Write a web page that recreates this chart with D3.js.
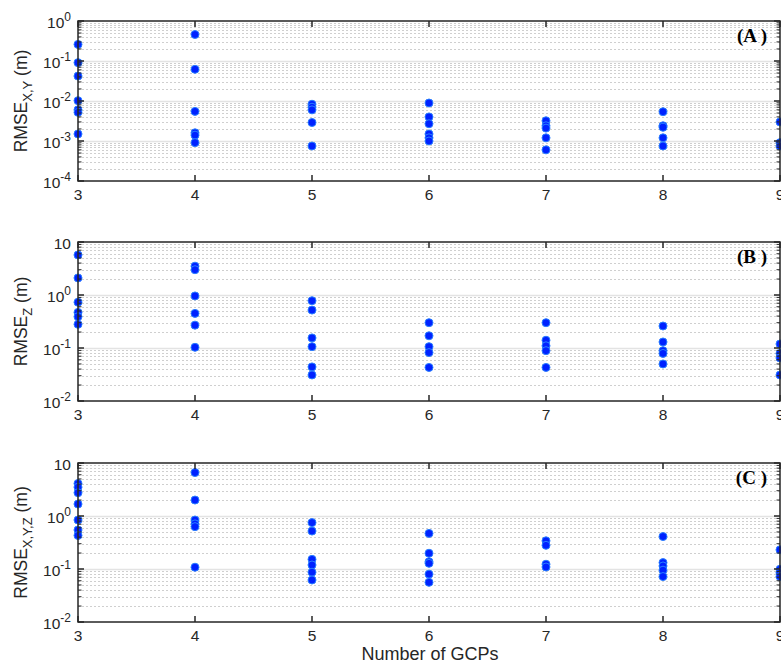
<!DOCTYPE html>
<html><head><meta charset="utf-8">
<script src="https://cdn.jsdelivr.net/npm/d3@7"></script>
<style>
body{margin:0;background:#fff;}
svg{display:block;font-family:"Liberation Sans",Arial,sans-serif;}
</style></head>
<body><svg id="chart" width="781" height="662"></svg>
<script>
const gcps = [3,4,5,6,7,8,9];
const xTicks = [3,4,5,6,7,8,9];
// Panel A: RMSE X,Y
const rmseXY = [
  [0.26,0.091,0.042,0.0102,0.006,0.0052,0.0015],
  [0.46,0.062,0.0055,0.0016,0.0014,0.00091],
  [0.0083,0.007,0.006,0.0029,0.00075],
  [0.0089,0.004,0.0027,0.0015,0.0012,0.001],
  [0.0032,0.0024,0.0021,0.0012,0.0006],
  [0.0054,0.0024,0.0022,0.0012,0.00075],
  [0.003,0.00091,0.00075]
];
// Panel B: RMSE Z
const rmseZ = [
  [5.7,2.1,0.73,0.47,0.39,0.28],
  [3.5,3.0,0.96,0.45,0.27,0.103],
  [0.78,0.52,0.155,0.106,0.044,0.031],
  [0.30,0.17,0.106,0.082,0.043],
  [0.30,0.14,0.11,0.089,0.043],
  [0.26,0.13,0.089,0.079,0.05],
  [0.119,0.079,0.065,0.031]
];
// Panel C: RMSE X,Y,Z
const rmseXYZ = [
  [4.1,3.5,2.75,1.68,0.84,0.545,0.43],
  [6.6,2.0,0.84,0.71,0.63,0.108],
  [0.75,0.52,0.152,0.119,0.087,0.062],
  [0.47,0.198,0.137,0.128,0.08,0.056],
  [0.34,0.28,0.123,0.109],
  [0.41,0.132,0.114,0.095,0.072],
  [0.23,0.099,0.085,0.072]
];
const panelLabels = ["(A )","(B )","(C )"];
const yLabelSubs = ["X,Y","Z","X,Y,Z"];
const yDomains = [[1e-4,1],[1e-2,10],[1e-2,10]];
const yTickExps = [[-4,-3,-2,-1,0],[-2,-1,0,1],[-2,-1,0,1]];
const xTitle = "Number of GCPs";

const svg = d3.select("#chart");
const axisColor = "#262626";
const left = 78, right = 780;
const panels = [
  {top:21, bottom:181, data:rmseXY},
  {top:242, bottom:401, data:rmseZ},
  {top:463, bottom:622, data:rmseXYZ}
];
const x = d3.scaleLinear().domain([3,9]).range([left,right]);

panels.forEach((p,i)=>{
  const y = d3.scaleLog().domain(yDomains[i]).range([p.bottom,p.top]);
  const g = svg.append("g");
  const lo = Math.log10(yDomains[i][0]), hi = Math.log10(yDomains[i][1]);
  const minors = [];
  for(let e=lo;e<hi;e++) for(let k=2;k<=9;k++) minors.push(k*Math.pow(10,e));
  const majors = d3.range(lo,hi+1).map(e=>Math.pow(10,e));
  // minor grid
  g.selectAll(".mg").data(minors).enter().append("line")
    .attr("x1",left).attr("x2",right)
    .attr("y1",d=>Math.round(y(d))+0.5).attr("y2",d=>Math.round(y(d))+0.5)
    .attr("stroke","#cfcfcf").attr("stroke-width",1).attr("stroke-dasharray","2,2");
  // major grid
  g.selectAll(".Mg").data(majors.slice(1,-1)).enter().append("line")
    .attr("x1",left).attr("x2",right)
    .attr("y1",d=>Math.round(y(d))+0.5).attr("y2",d=>Math.round(y(d))+0.5)
    .attr("stroke","#e3e3e3").attr("stroke-width",1.5);
  // points
  p.data.forEach((vals,j)=>{
    g.selectAll(null).data(vals).enter().append("circle")
      .attr("cx",x(gcps[j])).attr("cy",d=>y(d)).attr("r",4)
      .attr("fill","#0022ff").attr("stroke","#2a7fff").attr("stroke-width",1);
  });
  // box
  g.append("rect").attr("x",left).attr("y",p.top).attr("width",right-left).attr("height",p.bottom-p.top)
    .attr("fill","none").attr("stroke",axisColor).attr("stroke-width",1.5);
  // x ticks inward
  xTicks.forEach(t=>{
    g.append("line").attr("x1",x(t)).attr("x2",x(t)).attr("y1",p.bottom).attr("y2",p.bottom-6).attr("stroke",axisColor).attr("stroke-width",1.5);
    g.append("line").attr("x1",x(t)).attr("x2",x(t)).attr("y1",p.top).attr("y2",p.top+6).attr("stroke",axisColor).attr("stroke-width",1.5);
    g.append("text").attr("x",x(t)).attr("y",p.bottom+19).attr("text-anchor","middle")
      .attr("font-size",15.5).attr("fill",axisColor).text(t);
  });
  // y ticks
  majors.forEach(v=>{
    [[left,left+6],[right,right-6]].forEach(([a,b])=>{
      g.append("line").attr("x1",a).attr("x2",b).attr("y1",y(v)).attr("y2",y(v)).attr("stroke",axisColor).attr("stroke-width",1.5);
    });
  });
  minors.forEach(v=>{
    [[left,left+3.5],[right,right-3.5]].forEach(([a,b])=>{
      g.append("line").attr("x1",a).attr("x2",b).attr("y1",y(v)).attr("y2",y(v)).attr("stroke",axisColor).attr("stroke-width",1);
    });
  });
  yTickExps[i].forEach(e=>{
    const t = g.append("text").attr("x",left-7).attr("y",y(Math.pow(10,e))+7).attr("text-anchor","end")
      .attr("font-size",15.5).attr("fill",axisColor);
    if(e===1){ t.text("10"); }
    else {
      t.append("tspan").text("10");
      t.append("tspan").attr("dy",-7).attr("font-size",12).text(e);
    }
  });
  // y label
  const yl = g.append("text").attr("transform",`translate(27,${(p.top+p.bottom)/2}) rotate(-90)`)
    .attr("text-anchor","middle").attr("font-size",17.5).attr("fill",axisColor);
  yl.append("tspan").text("RMSE");
  yl.append("tspan").attr("dy",5).attr("font-size",13).text(yLabelSubs[i]);
  yl.append("tspan").attr("dy",-5).text(" (m)");
  // panel label
  g.append("text").attr("x",767).attr("y",p.top+21).attr("text-anchor","end")
    .attr("font-family","'Liberation Serif','DejaVu Serif',serif").attr("font-weight","bold")
    .attr("font-size",19).attr("fill","#000").text(panelLabels[i]);
});
svg.append("text").attr("x",430).attr("y",660).attr("text-anchor","middle")
  .attr("font-size",18).attr("fill",axisColor).text(xTitle);
</script></body></html>
